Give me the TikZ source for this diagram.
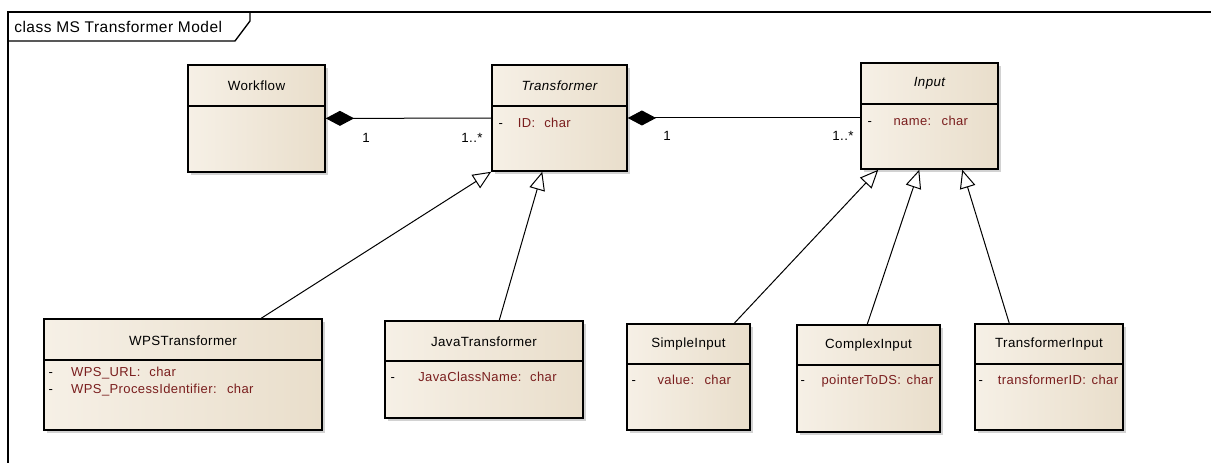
\documentclass[tikz,border=0pt]{standalone}
\usepackage{fontspec}
\setmainfont[LetterSpace=3]{Liberation Sans}
\usetikzlibrary{arrows.meta,calc,fit,shadows}
\definecolor{clsL}{HTML}{F6F0E6}
\definecolor{clsR}{HTML}{E9DECB}
\definecolor{attred}{HTML}{7A1E1E}
\tikzset{cls/.style={draw=black,line width=.9pt,left color=clsL,right color=clsR,inner sep=0pt,
           drop shadow={shadow xshift=2pt,shadow yshift=-2pt,fill=black!35}},
         ttl/.style={font=\fontsize{8}{10}\selectfont},
         att/.style={font=\fontsize{7.8}{10}\selectfont,text=attred,anchor=west,inner sep=0pt},
         mult/.style={font=\fontsize{8}{10}\selectfont,inner sep=0pt},
         comp/.style={{Diamond[length=17pt,width=9pt]}-,line width=.6pt},
         gen/.style={-{Triangle[length=11pt,width=9.5pt,fill=white]},line width=.6pt}}

\begin{document}
\begin{tikzpicture}[x=.6pt,y=-.6pt]
  \fill[white] (0,0) rectangle (1211,463);
  \useasboundingbox (0,0) rectangle (1211,463);
  % frame
  \draw[line width=.8pt] (8,463) -- (8,12) -- (1211,12);
  \draw[line width=.8pt] (8,41) -- (235,41) -- (250,21) -- (250,12);
  \node[mult,anchor=west,font=\fontsize{9.3}{11}\selectfont] (frm) at (14,27) {class MS Transformer Model};

  % classes
  \node[cls,fit={(188,65) (325,172)}] (wf) {};
  \node[cls,fit={(492,65) (627,171)}] (trf) {};
  \node[cls,fit={(861,63) (998,169)}] (inp) {};
  \node[cls,fit={(44,319) (322,430)}] (wps) {};
  \node[cls,fit={(385,321) (583,418)}] (java) {};
  \node[cls,fit={(627,324) (750,430)}] (simp) {};
  \node[cls,fit={(797,325) (940,432)}] (cplx) {};
  \node[cls,fit={(975,324) (1123,430)}] (tin) {};

  \draw[line width=.9pt] ($(wf.north west)+(0,42)$) -- ($(wf.north east)+(0,42)$);
  \draw[line width=.9pt] ($(trf.north west)+(0,42)$) -- ($(trf.north east)+(0,42)$);
  \draw[line width=.9pt] ($(inp.north west)+(0,42)$) -- ($(inp.north east)+(0,42)$);
  \draw[line width=.9pt] ($(wps.north west)+(0,42)$) -- ($(wps.north east)+(0,42)$);
  \draw[line width=.9pt] ($(java.north west)+(0,41)$) -- ($(java.north east)+(0,41)$);
  \draw[line width=.9pt] ($(simp.north west)+(0,41)$) -- ($(simp.north east)+(0,41)$);
  \draw[line width=.9pt] ($(cplx.north west)+(0,41)$) -- ($(cplx.north east)+(0,41)$);
  \draw[line width=.9pt] ($(tin.north west)+(0,41)$) -- ($(tin.north east)+(0,41)$);

  \node[ttl] (wfT) at ($(wf.north)+(0,21)$) {Workflow};
  \node[ttl] (trfT) at ($(trf.north)+(0,21)$) {\itshape Transformer};
  \node[ttl] (inpT) at ($(inp.north)+(0,21)$) {\itshape Input};
  \node[ttl] (wpsT) at ($(wps.north)+(0,22)$) {WPSTransformer};
  \node[ttl] (javaT) at ($(java.north)+(0,21)$) {JavaTransformer};
  \node[ttl] (simpT) at ($(simp.north)+(0,21)$) {SimpleInput};
  \node[ttl] (cplxT) at ($(cplx.north)+(0,21)$) {ComplexInput};
  \node[ttl] (tinT) at ($(tin.north)+(0,21)$) {TransformerInput};

  \node[att] (trfA) at ($(trf.north west)+(7,59)$) {\textcolor{black}{-}\hspace{9pt}ID:\hspace{3pt} char};
  \node[att] (inpA) at ($(inp.north west)+(7,59)$) {\textcolor{black}{-}\hspace{13pt}name:\hspace{3pt} char};
  \node[att] (wpsA) at ($(wps.north west)+(5,55)$) {\textcolor{black}{-}\hspace{11pt}WPS\_URL:\hspace{3pt} char};
  \node[att] (wpsB) at ($(wps.north west)+(5,72)$) {\textcolor{black}{-}\hspace{11pt}WPS\_ProcessIdentifier:\hspace{3pt} char};
  \node[att] (javaA) at ($(java.north west)+(6,57)$) {\textcolor{black}{-}\hspace{14pt}JavaClassName:\hspace{2pt} char};
  \node[att] (simpA) at ($(simp.north west)+(5,57)$) {\textcolor{black}{-}\hspace{13pt}value:\hspace{3pt} char};
  \node[att] (cplxA) at ($(cplx.north west)+(4,57)$) {\textcolor{black}{-}\hspace{10pt}pointerToDS:\hspace{1pt} char};
  \node[att] (tinA) at ($(tin.north west)+(4,57)$) {\textcolor{black}{-}\hspace{9pt}transformerID:\hspace{1pt} char};

  % compositions
  \draw[comp] (wf) -- (trf);
  \draw[comp] (trf.east) -- (trf.east -| inp.west);
  \node[mult] (m1) at (366,138) {1};
  \node[mult] (m2) at (472,138) {1..*};
  \node[mult] (m3) at (667,136) {1};
  \node[mult] (m4) at (843,136) {1..*};

  % generalizations
  \draw[gen] ($(wps.north west)+(218,0)$) -- (trf.south west);
  \draw[gen] ($(java.north west)+(115,0)$) -- ($(trf.south west)+(51,0)$);
  \draw[gen] ($(simp.north west)+(108,0)$) -- ($(inp.south west)+(18,0)$);
  \draw[gen] ($(cplx.north west)+(71,0)$) -- ($(inp.south west)+(59,0)$);
  \draw[gen] ($(tin.north west)+(35,0)$) -- ($(inp.south west)+(102,0)$);
\end{tikzpicture}
\end{document}
